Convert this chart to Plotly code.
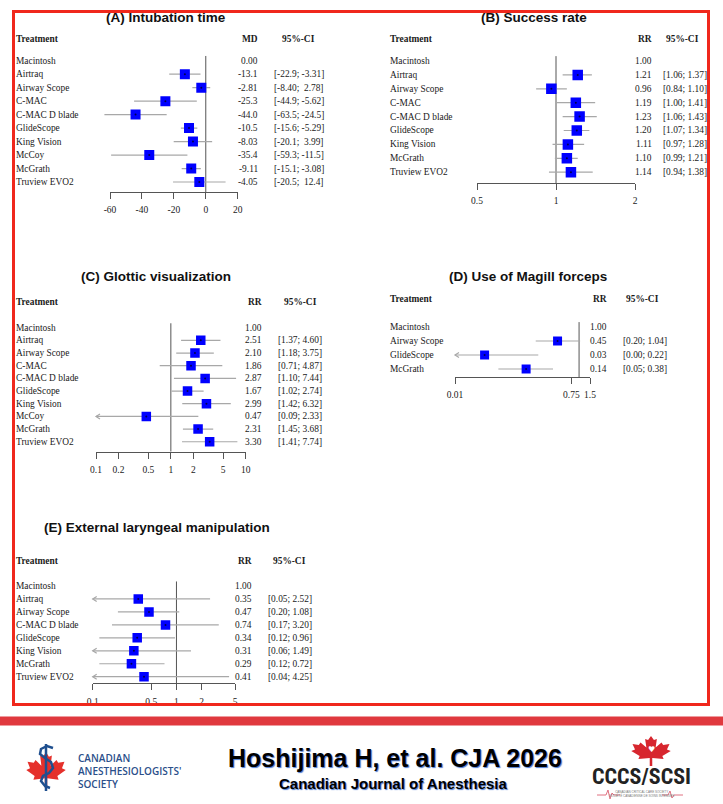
import math
import plotly.graph_objects as go

W, H = 723, 804

# (A) Intubation time - mean difference vs Macintosh
a_names = ["Macintosh", "Airtraq", "Airway Scope", "C-MAC", "C-MAC D blade",
           "GlideScope", "King Vision", "McCoy", "McGrath", "Truview EVO2"]
a_est = [0.00, -13.1, -2.81, -25.3, -44.0, -10.5, -8.03, -35.4, -9.11, -4.05]
a_lo = [None, -22.9, -8.40, -44.9, -63.5, -15.6, -20.1, -59.3, -15.1, -20.5]
a_hi = [None, -3.31, 2.78, -5.62, -24.5, -5.29, 3.99, -11.5, -3.08, 12.4]
a_ticks = [-60, -40, -20, 0, 20]

# (B) Success rate - risk ratio
b_names = ["Macintosh", "Airtraq", "Airway Scope", "C-MAC", "C-MAC D blade",
           "GlideScope", "King Vision", "McGrath", "Truview EVO2"]
b_est = [1.00, 1.21, 0.96, 1.19, 1.23, 1.20, 1.11, 1.10, 1.14]
b_lo = [None, 1.06, 0.84, 1.00, 1.06, 1.07, 0.97, 0.99, 0.94]
b_hi = [None, 1.37, 1.10, 1.41, 1.43, 1.34, 1.28, 1.21, 1.38]
b_ticks = [0.5, 1, 2]

# (C) Glottic visualization
c_names = ["Macintosh", "Airtraq", "Airway Scope", "C-MAC", "C-MAC D blade",
           "GlideScope", "King Vision", "McCoy", "McGrath", "Truview EVO2"]
c_est = [1.00, 2.51, 2.10, 1.86, 2.87, 1.67, 2.99, 0.47, 2.31, 3.30]
c_lo = [None, 1.37, 1.18, 0.71, 1.10, 1.02, 1.42, 0.09, 1.45, 1.41]
c_hi = [None, 4.60, 3.75, 4.87, 7.44, 2.74, 6.32, 2.33, 3.68, 7.74]
c_ticks = [0.1, 0.2, 0.5, 1, 2, 5, 10]

# (D) Use of Magill forceps
d_names = ["Macintosh", "Airway Scope", "GlideScope", "McGrath"]
d_est = [1.00, 0.45, 0.03, 0.14]
d_lo = [None, 0.20, 0.00, 0.05]
d_hi = [None, 1.04, 0.22, 0.38]
d_ticks = [0.01, 0.75, 1.5]

# (E) External laryngeal manipulation
e_names = ["Macintosh", "Airtraq", "Airway Scope", "C-MAC D blade", "GlideScope",
           "King Vision", "McGrath", "Truview EVO2"]
e_est = [1.00, 0.35, 0.47, 0.74, 0.34, 0.31, 0.29, 0.41]
e_lo = [None, 0.05, 0.20, 0.17, 0.12, 0.06, 0.12, 0.04]
e_hi = [None, 2.52, 1.08, 3.20, 0.96, 1.49, 0.72, 4.25]
e_ticks = [0.1, 0.5, 1, 2, 5]

SERIF = "Liberation Serif, Times New Roman, serif"
SANS = "Liberation Sans, Arial, sans-serif"
TXT = "#1a1a1a"


def sig3(v):
    if v == 0:
        return "0.00"
    d = max(0, 2 - int(math.floor(math.log10(abs(v)))))
    return f"{v:.{d}f}"


def fix2(v):
    return f"{v:.2f}"


panels = [
    dict(title="(A) Intubation time", names=a_names, est=a_est, lo=a_lo, hi=a_hi, ticks=a_ticks,
         ref=0, log=False, arrows=False, col="MD", fmt=sig3, title_xy=(166, 18), name_x=15,
         head_y=39, est_x=259, ci_x=273, cihead_x=298.5, rows=(60.7, 13.48), axis_y=192,
         cal=((-60, 110), (20, 237.7)), span=(-68, 24), sq=10),
    dict(title="(B) Success rate", names=b_names, est=b_est, lo=b_lo, hi=b_hi, ticks=b_ticks,
         ref=1, log=True, arrows=True, col="RR", fmt=fix2, title_xy=(534, 18), name_x=389,
         head_y=39, est_x=653, ci_x=662, cihead_x=682, rows=(61, 13.9), axis_y=183,
         cal=((0.5, 477), (2, 635)), span=(0.45, 2.2), sq=10.5),
    dict(title="(C) Glottic visualization", names=c_names, est=c_est, lo=c_lo, hi=c_hi, ticks=c_ticks,
         ref=1, log=True, arrows=True, col="RR", fmt=fix2, title_xy=(156, 276), name_x=15,
         head_y=302, est_x=263, ci_x=277, cihead_x=300, rows=(327.7, 12.67), axis_y=451.7,
         cal=((0.1, 96), (10, 245.7)), span=(0.08, 12), sq=9.5),
    dict(title="(D) Use of Magill forceps", names=d_names, est=d_est, lo=d_lo, hi=d_hi, ticks=d_ticks,
         ref=1, log=True, arrows=True, col="RR", fmt=fix2, title_xy=(528, 276), name_x=389,
         head_y=299, est_x=608, ci_x=622, cihead_x=642, rows=(327, 14), axis_y=377,
         cal=((0.01, 455), (1.5, 590)), span=(0.008, 1.8), sq=9),
    dict(title="(E) External laryngeal manipulation", names=e_names, est=e_est, lo=e_lo, hi=e_hi,
         ticks=e_ticks, ref=1, log=True, arrows=True, col="RR", fmt=fix2, title_xy=(157, 527),
         name_x=15, head_y=560.7, est_x=253, ci_x=267, cihead_x=289, rows=(586, 12.96),
         axis_y=683.3, cal=((0.1, 92.7), (5, 235)), span=(0.08, 6), sq=9.5),
]


def sfx(n):
    return "" if n == 1 else str(n)


def ann(fig, text, x, y, yref="paper", xanchor="left", size=9.4, bold=False, family=SERIF,
        color=TXT, weight=None, align="center"):
    font = dict(family=family, size=size, color=color)
    if weight:
        font["weight"] = weight
    fig.add_annotation(text=f"<b>{text}</b>" if bold else text, x=x / W, xref="paper",
                       y=(1 - y / H) if yref == "paper" else y, yref=yref,
                       xanchor=xanchor, yanchor="middle", showarrow=False, align=align,
                       font=font, borderpad=0)


def add_panel(fig, k, p):
    f = math.log10 if p["log"] else (lambda v: v)
    (v1, p1), (v2, p2) = p["cal"]
    s = (p2 - p1) / (f(v2) - f(v1))
    px = lambda v: p1 + s * (f(v) - f(v1))
    y0, dy = p["rows"]
    ybot = (p["axis_y"] - y0) / dy
    ydom = [1 - p["axis_y"] / H, 1 - (y0 - dy) / H]
    xd, xs, ya = f"x{sfx(k)}", f"x{k + 5}", f"y{sfx(k)}"
    ticks = p["ticks"]
    tmin = ticks[0]

    fig.layout[f"yaxis{sfx(k)}"] = dict(domain=ydom, range=[ybot, -1], visible=False,
                                         anchor=xd, fixedrange=True)
    fig.layout[f"xaxis{sfx(k)}"] = dict(domain=[px(p["span"][0]) / W, px(p["span"][1]) / W],
                                         range=[f(p["span"][0]), f(p["span"][1])],
                                         type="log" if p["log"] else "linear",
                                         visible=False, anchor=ya, fixedrange=True)
    fig.layout[f"xaxis{k + 5}"] = dict(domain=[px(ticks[0]) / W, px(ticks[-1]) / W],
                                        range=[f(ticks[0]), f(ticks[-1])],
                                        type="log" if p["log"] else "linear",
                                        anchor=ya, showline=True, linecolor="#555", linewidth=1,
                                        ticks="outside", ticklen=6, tickwidth=1, tickcolor="#555",
                                        ticklabelstandoff=3,
                                        tickvals=ticks, ticktext=[str(t) for t in ticks],
                                        tickfont=dict(family=SERIF, size=9.5, color=TXT),
                                        showgrid=False, zeroline=False, fixedrange=True)
    # invisible point so the axis subplot is built
    fig.add_scatter(x=[ticks[0]], y=[ybot], xaxis=xs, yaxis=ya, mode="markers",
                    marker=dict(opacity=0), hoverinfo="skip", showlegend=False)

    # reference line
    fig.add_scatter(x=[p["ref"], p["ref"]], y=[-0.35, ybot], xaxis=xd, yaxis=ya, mode="lines",
                    line=dict(color="#555", width=1), hoverinfo="skip", showlegend=False)

    # confidence intervals, arrow where the CI runs past the axis
    cx, cy = [], []
    for i, (lo, hi) in enumerate(zip(p["lo"], p["hi"])):
        if lo is None:
            continue
        if p["arrows"] and lo < tmin:
            back = 10 ** (f(tmin) + 4 / s) if p["log"] else tmin + 4 / s
            h = 2.5 / dy
            cx += [back, tmin, back, None]
            cy += [i - h, i, i + h, None]
            lo = tmin
        cx += [lo, hi, None]
        cy += [i, i, None]
    fig.add_scatter(x=cx, y=cy, xaxis=xd, yaxis=ya, mode="lines",
                    line=dict(color="#a8a8a8", width=1.2), hoverinfo="skip", showlegend=False)

    # squares
    sx = [e for e, lo in zip(p["est"], p["lo"]) if lo is not None]
    sy = [i for i, lo in enumerate(p["lo"]) if lo is not None]
    fig.add_scatter(x=sx, y=sy, xaxis=xd, yaxis=ya, mode="markers",
                    marker=dict(symbol="square", size=p["sq"], color="#0000ff", line=dict(width=0)),
                    hoverinfo="skip", showlegend=False)
    fig.add_scatter(x=sx, y=sy, xaxis=xd, yaxis=ya, mode="markers",
                    marker=dict(symbol="circle", size=2, color="#000050"),
                    hoverinfo="skip", showlegend=False)

    # text columns
    lo_s = [p["fmt"](v) if v is not None else "" for v in p["lo"]]
    hi_s = [p["fmt"](v) if v is not None else "" for v in p["hi"]]
    wl = max(len(t) for t in lo_s)
    wh = max(len(t) for t in hi_s)
    for i, name in enumerate(p["names"]):
        ann(fig, name, p["name_x"], i, yref=ya)
        ann(fig, p["fmt"](p["est"][i]), p["est_x"], i, yref=ya, xanchor="right")
        if p["lo"][i] is not None:
            ci = "[" + lo_s[i].rjust(wl, "\u00a0") + ";\u00a0" + hi_s[i].rjust(wh, "\u00a0") + "]"
            ann(fig, ci, p["ci_x"], i, yref=ya)
    ann(fig, "Treatment", p["name_x"], p["head_y"], bold=True)
    ann(fig, p["col"], p["est_x"], p["head_y"], xanchor="right", bold=True)
    ann(fig, "95%-CI", p["cihead_x"], p["head_y"], xanchor="center", bold=True)
    tx, ty = p["title_xy"]
    ann(fig, p["title"], tx, ty, xanchor="center", size=13.5, bold=True, family=SANS, color="#111")


def path(pts, close=True):
    d = "M " + " L ".join(f"{x / W:.5f},{1 - y / H:.5f}" for x, y in pts)
    return d + (" Z" if close else "")


def leaf(cx, top, w, h):
    half = [(0, 0), (0.07, 0.13), (0.14, 0.10), (0.11, 0.38), (0.25, 0.22), (0.29, 0.30),
            (0.44, 0.27), (0.38, 0.45), (0.47, 0.50), (0.27, 0.67), (0.30, 0.77),
            (0.03, 0.73), (0.03, 1.0)]
    right = [(cx + u * w, top + v * h) for u, v in half]
    left = [(cx - u * w, top + v * h) for u, v in reversed(half[1:])]
    return right + left


fig = go.Figure()
for k, p in enumerate(panels, start=1):
    add_panel(fig, k, p)

shapes = [
    # hide tick labels that run below the frame
    dict(type="rect", xref="paper", yref="paper", x0=0, x1=1, y0=1 - 716 / H, y1=1 - 705 / H,
         fillcolor="white", line=dict(width=0), layer="above"),
    # red frame
    dict(type="rect", xref="paper", yref="paper", x0=13.5 / W, x1=708.5 / W,
         y0=1 - 704.5 / H, y1=1 - 11.5 / H, line=dict(color="#f0281c", width=3),
         fillcolor="rgba(0,0,0,0)", layer="above"),
    # footer bar
    dict(type="rect", xref="paper", yref="paper", x0=0, x1=1, y0=1 - 725.5 / H, y1=1 - 716.5 / H,
         fillcolor="#e0393e", line=dict(width=0), layer="above"),
    # CAS logo
    dict(type="path", xref="paper", yref="paper", path=path(leaf(46, 752, 42, 36)),
         fillcolor="#e5302b", line=dict(width=0), layer="above"),
    dict(type="path", xref="paper", yref="paper", path=path([(46, 744), (46, 791)], close=False),
         line=dict(color="#1f4f8f", width=2.5), layer="above"),
    dict(type="path", xref="paper", yref="paper",
         path=path([(53, 748), (47, 746), (41, 749), (40, 754), (45, 758), (51, 762), (53, 768),
                    (49, 773), (43, 776), (41, 781), (45, 786), (50, 788)], close=False),
         line=dict(color="#1f4f8f", width=2.5), layer="above"),
    # CCCS logo
    dict(type="path", xref="paper", yref="paper", path=path(leaf(651, 736, 42, 30)),
         fillcolor="#d7262e", line=dict(width=0), layer="above"),
    dict(type="path", xref="paper", yref="paper",
         path=path([(597, 795), (606, 795), (608, 790), (610, 799), (612, 793), (614, 795),
                    (620, 795)], close=False),
         line=dict(color="#e07080", width=1), layer="above"),
    dict(type="path", xref="paper", yref="paper",
         path=path([(662, 795), (668, 795), (670, 791), (672, 798), (674, 795), (683, 795)],
                   close=False),
         line=dict(color="#e07080", width=1), layer="above"),
]
fig.update_layout(shapes=shapes)

ann(fig, "Hoshijima H, et al. CJA 2026", 395, 758, xanchor="center", size=25, bold=True,
    family=SANS, color="#000")
fig.layout.annotations[-1].font.shadow = "1px 1px 1px #4a78d0"
ann(fig, "Canadian Journal of Anesthesia", 393, 783, xanchor="center", size=15, bold=True,
    family=SANS, color="#000")
fig.layout.annotations[-1].font.shadow = "1px 1px 1px #4a78d0"
ann(fig, "CANADIAN<br>ANESTHESIOLOGISTS'<br>SOCIETY", 77, 770.5, size=10, align="left",
    family="Open Sans, Lato, sans-serif", color="#2b4f8a", weight=600)
ann(fig, "\u2665", 651, 749, xanchor="center", size=8, family="DejaVu Sans", color="white")
ann(fig, "CCCS/SCSI", 641, 776, xanchor="center", size=22, bold=True,
    family="Liberation Sans Narrow, Roboto Condensed, Roboto, sans-serif", color="#222")
ann(fig, "CANADIAN CRITICAL CARE SOCIETY<br>SOCI\u00c9T\u00c9 CANADIENNE DE SOINS INTENSIFS",
    641, 794, xanchor="center", size=3, family=SANS, color="#777")

fig.update_layout(width=W, height=H, autosize=False,
                  margin=dict(l=0, r=0, t=0, b=0, pad=0, autoexpand=False),
                  paper_bgcolor="white", plot_bgcolor="rgba(0,0,0,0)", showlegend=False,
                  hovermode=False)

fig.write_html("out.html", config={"displayModeBar": False, "responsive": False},
               post_script="document.body.style.margin='0';")
